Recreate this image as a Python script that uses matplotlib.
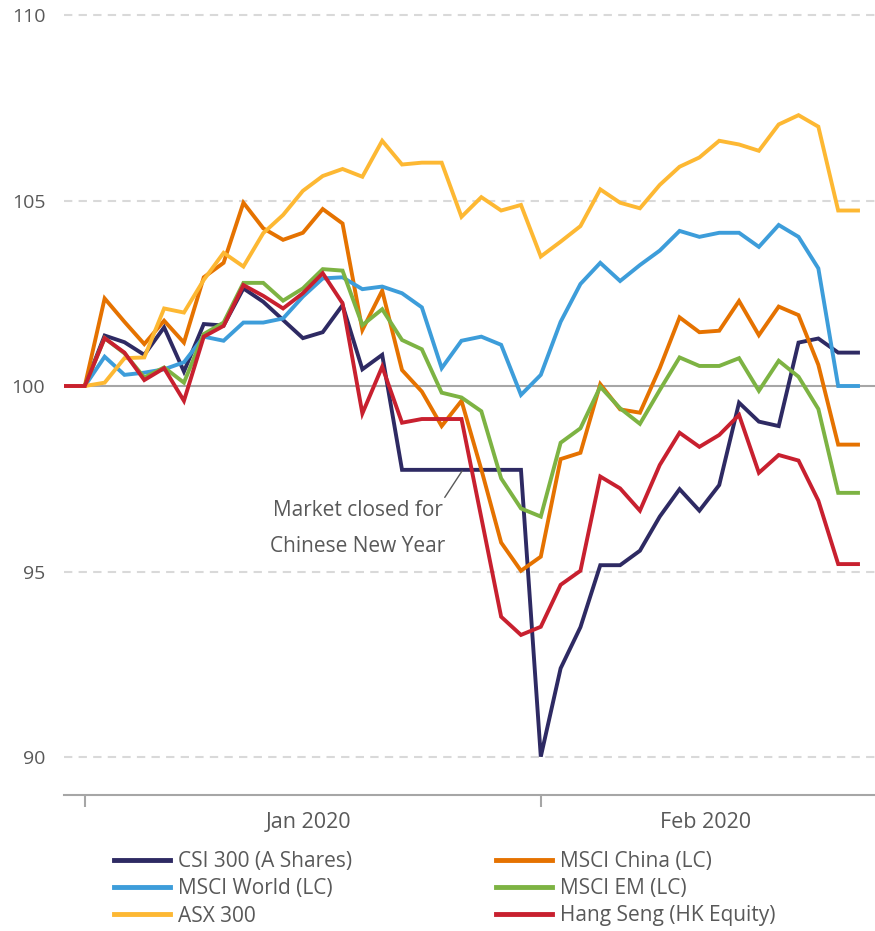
import matplotlib
matplotlib.use("Agg")
import matplotlib.pyplot as plt
import pandas as pd
from matplotlib.ticker import FixedLocator

plt.rcParams['font.family'] = ['Open Sans', 'DejaVu Sans']

dates = pd.bdate_range("2019-12-31", "2020-02-25")

csi = [100, 100, 101.36, 101.18, 100.84, 101.58, 100.39, 101.67, 101.63, 102.63, 102.27,
       101.78, 101.29, 101.45, 102.18, 100.45, 100.84, 97.74, 97.74, 97.74, 97.74,
       97.74, 97.74, 97.74, 90.01, 92.39, 93.5, 95.17, 95.17, 95.56, 96.48,
       97.22, 96.64, 97.33, 99.55, 99.04, 98.92, 101.17, 101.28, 100.90, 100.90]
china = [100, 100, 102.36, 101.73, 101.13, 101.76, 101.17, 102.93, 103.32, 104.94, 104.25,
         103.94, 104.13, 104.77, 104.38, 101.51, 102.57, 100.43, 99.85, 98.92, 99.60,
         97.75, 95.78, 95.02, 95.40, 98.03, 98.20, 100.05, 99.37, 99.28, 100.48,
         101.85, 101.45, 101.49, 102.29, 101.37, 102.14, 101.91, 100.57, 98.42, 98.42]
world = [100, 100, 100.79, 100.30, 100.36, 100.45, 100.64, 101.33, 101.22, 101.71, 101.71,
         101.82, 102.41, 102.90, 102.93, 102.61, 102.68, 102.50, 102.12, 100.48, 101.22,
         101.33, 101.11, 99.76, 100.30, 101.73, 102.75, 103.32, 102.83, 103.26, 103.65,
         104.18, 104.02, 104.13, 104.13, 103.75, 104.34, 104.02, 103.17, 100.0, 100.0]
em = [100, 100, 101.29, 100.88, 100.23, 100.50, 100.09, 101.40, 101.71, 102.78, 102.78,
      102.30, 102.63, 103.15, 103.11, 101.64, 102.07, 101.24, 100.99, 99.82, 99.69,
      99.32, 97.51, 96.70, 96.48, 98.47, 98.86, 99.98, 99.40, 98.98, 99.89,
      100.77, 100.54, 100.54, 100.75, 99.87, 100.68, 100.25, 99.38, 97.12, 97.12]
asx = [100, 100, 100.09, 100.75, 100.77, 102.09, 101.98, 102.86, 103.59, 103.22, 104.12,
       104.61, 105.26, 105.66, 105.85, 105.64, 106.61, 105.97, 106.02, 106.02, 104.56,
       105.09, 104.73, 104.88, 103.49, 103.89, 104.31, 105.30, 104.94, 104.79, 105.42,
       105.91, 106.16, 106.61, 106.51, 106.34, 107.05, 107.30, 106.99, 104.73, 104.73]
hs = [100, 100, 101.29, 100.90, 100.16, 100.48, 99.60, 101.33, 101.62, 102.72, 102.43,
      102.09, 102.50, 103.04, 102.23, 99.26, 100.52, 99.01, 99.11, 99.11, 99.11,
      96.45, 93.78, 93.29, 93.51, 94.64, 95.02, 97.56, 97.24, 96.64, 97.87,
      98.74, 98.36, 98.68, 99.22, 97.66, 98.14, 97.99, 96.91, 95.20, 95.20]

series_names = ["CSI 300 (A Shares)", "MSCI China (LC)", "MSCI World (LC)",
                "MSCI EM (LC)", "ASX 300", "Hang Seng (HK Equity)"]
series_values = [csi, china, world, em, asx, hs]
colors = ["#2E2A63", "#E57200", "#3D9DDA", "#7DB343", "#FDB833", "#C8202F"]

month_labels = ["Jan 2020", "Feb 2020"]
y_ticks = [90, 95, 100, 105, 110]

TXT = "#595959"
AXC = "#A6A6A6"

fig = plt.figure(figsize=(8.75, 9.31), dpi=100)
ax = fig.add_axes([64 / 875, 1 - 795 / 931, 1 - 64 / 875, 795 / 931])

x = list(range(len(dates)))
n = len(dates)

# grid
for yv in y_ticks:
    if yv == 100:
        ax.axhline(yv, color=AXC, lw=1.5, zorder=1)
    else:
        ax.axhline(yv, color="#D9D9D9", lw=1.5, ls=(0, (4, 3)), zorder=1)

lines = {}
for name, vals, c in zip(series_names, series_values, colors):
    ln, = ax.plot(x, vals, color=c, lw=2.8, label=name, zorder=3,
                  solid_joinstyle='miter')
    lines[name] = ln

ax.set_xlim(-0.05, (875 - 65) / 19.825)
ax.set_ylim(90 - 38 / 37.1, 110 + 15 / 37.1)

for s in ["top", "right", "left"]:
    ax.spines[s].set_visible(False)
ax.spines["bottom"].set_color(AXC)
ax.spines["bottom"].set_linewidth(1.5)

ax.set_yticks(y_ticks)
ax.set_yticklabels([str(v) for v in y_ticks])
ax.tick_params(axis='y', length=0, pad=13.5, labelsize=14, labelcolor=TXT)

# month boundaries
months = [d.month for d in dates]
starts = [i for i in range(1, n) if months[i] != months[i - 1]]
ends = starts[1:] + [n]
ax.xaxis.set_major_locator(FixedLocator(starts))
ax.set_xticklabels([])
ax.tick_params(axis='x', which='major', length=8.5, width=1.5, color=AXC, direction='out')
centers = [(s + e) / 2 - 0.2 for s, e in zip(starts, ends)]
ax.xaxis.set_minor_locator(FixedLocator(centers))
ax.set_xticklabels(month_labels, minor=True)
ax.tick_params(axis='x', which='minor', length=0, pad=12.5, labelsize=15.5, labelcolor=TXT)

# annotation
ax.annotate("Market closed for", xy=(20.03, 97.71), xytext=(14.78, 96.64),
            ha='center', va='center', fontsize=15, color=TXT,
            arrowprops=dict(arrowstyle='-', color=TXT, lw=1.0,
                            shrinkA=0, shrinkB=0, relpos=(1.0, 1.0)))
ax.text(14.78, 95.67, "Chinese New Year", ha='center', va='center', fontsize=15, color=TXT)

order = ["CSI 300 (A Shares)", "MSCI World (LC)", "ASX 300",
         "MSCI China (LC)", "MSCI EM (LC)", "Hang Seng (HK Equity)"]
fig.legend([lines[k] for k in order], order, ncol=2, frameon=False,
           loc='upper left', bbox_to_anchor=(114 / 875, 1 - 851 / 931),
           borderpad=0, borderaxespad=0, handlelength=2.69, handletextpad=0.38,
           columnspacing=6.9, labelspacing=0.3, fontsize=15, labelcolor=TXT,
           handleheight=0.7)
for lh in fig.legends[0].legend_handles:
    lh.set_linewidth(3.5)

fig.savefig("out.png", dpi=100)
